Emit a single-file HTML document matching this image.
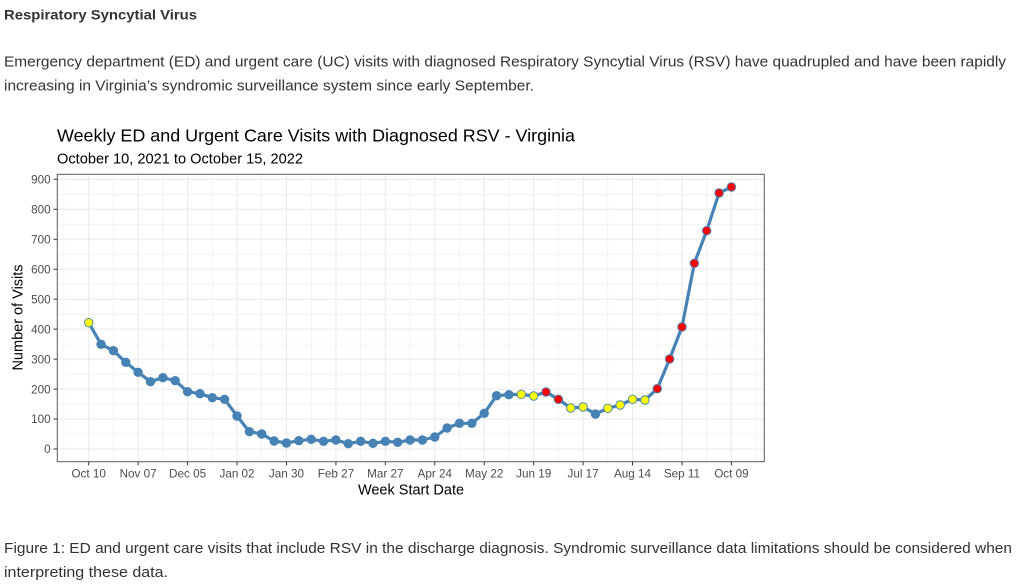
<!DOCTYPE html>
<html><head><meta charset="utf-8"><style>
html,body{margin:0;padding:0;background:#fff;width:1026px;height:586px;overflow:hidden}
svg{display:block}
text{font-family:"Liberation Sans",Arial,sans-serif}
</style></head><body>
<svg width="1026" height="586" viewBox="0 0 1026 586" xmlns="http://www.w3.org/2000/svg">
<rect width="1026" height="586" fill="#fff"/>
<text x="4" y="19.5" font-size="14" font-weight="bold" fill="#333" textLength="193" lengthAdjust="spacingAndGlyphs">Respiratory Syncytial Virus</text>
<text x="4" y="66.5" font-size="15" fill="#333" textLength="1002" lengthAdjust="spacingAndGlyphs">Emergency department (ED) and urgent care (UC) visits with diagnosed Respiratory Syncytial Virus (RSV) have quadrupled and have been rapidly</text>
<text x="4" y="90.5" font-size="15" fill="#333" textLength="530" lengthAdjust="spacingAndGlyphs">increasing in Virginia’s syndromic surveillance system since early September.</text>

<text x="57" y="141.5" font-size="17.6" fill="#000" textLength="518" lengthAdjust="spacingAndGlyphs">Weekly ED and Urgent Care Visits with Diagnosed RSV - Virginia</text>
<text x="57" y="163.3" font-size="14.67" fill="#000" textLength="246" lengthAdjust="spacingAndGlyphs">October 10, 2021 to October 15, 2022</text>

<!-- panel grid -->
<g fill="none" stroke="#ebebeb">
<path stroke-width="0.6" d="M57.3 434H764.3M57.3 404.05H764.3M57.3 374.08H764.3M57.3 344.12H764.3M57.3 314.15H764.3M57.3 284.18H764.3M57.3 254.22H764.3M57.3 224.25H764.3M57.3 194.28H764.3
M63.98 174.3V461.7M113.42 174.3V461.7M162.86 174.3V461.7M212.3 174.3V461.7M261.74 174.3V461.7M311.18 174.3V461.7M360.62 174.3V461.7M410.06 174.3V461.7M459.5 174.3V461.7M508.94 174.3V461.7M558.38 174.3V461.7M607.82 174.3V461.7M657.26 174.3V461.7M706.7 174.3V461.7M756.14 174.3V461.7"/>
<path stroke-width="1.1" d="M57.3 449H764.3M57.3 419.03H764.3M57.3 389.07H764.3M57.3 359.1H764.3M57.3 329.13H764.3M57.3 299.17H764.3M57.3 269.2H764.3M57.3 239.23H764.3M57.3 209.27H764.3M57.3 179.3H764.3
M88.7 174.3V461.7M138.14 174.3V461.7M187.58 174.3V461.7M237.02 174.3V461.7M286.46 174.3V461.7M335.9 174.3V461.7M385.34 174.3V461.7M434.78 174.3V461.7M484.22 174.3V461.7M533.66 174.3V461.7M583.1 174.3V461.7M632.54 174.3V461.7M681.98 174.3V461.7M731.42 174.3V461.7"/>
</g>

<!-- data line -->
<polyline fill="none" stroke="#4682b4" stroke-width="3.2" stroke-linejoin="round" points="88.7,322.7 101.06,344.3 113.42,350.7 125.78,362.3 138.14,372.3 150.5,381.7 162.86,377.7 175.22,380.7 187.58,391.7 199.94,393.7 212.3,397.7 224.66,399.3 237.02,416 249.38,431.7 261.74,434 274.1,441 286.46,443 298.82,440.7 311.18,439.3 323.54,441.3 335.9,440 348.26,443.7 360.62,441.3 372.98,443.3 385.34,441.3 397.7,442.3 410.06,440 422.42,440 434.78,437 447.14,428 459.5,423.3 471.86,423.3 484.22,413.3 496.58,395.7 508.94,394.7 521.3,394.3 533.66,396 546.02,392 558.38,399.3 570.74,408 583.1,407 595.46,414 607.82,408.3 620.18,405 632.54,399.3 644.9,400 657.26,388.7 669.62,359 681.98,327 694.34,263.3 706.7,230.7 719.06,193 731.42,187"/>

<!-- blue points -->
<g fill="#4682b4">
<circle cx="88.7" cy="322.7" r="4.7"/><circle cx="101.06" cy="344.3" r="4.7"/><circle cx="113.42" cy="350.7" r="4.7"/><circle cx="125.78" cy="362.3" r="4.7"/><circle cx="138.14" cy="372.3" r="4.7"/><circle cx="150.5" cy="381.7" r="4.7"/><circle cx="162.86" cy="377.7" r="4.7"/><circle cx="175.22" cy="380.7" r="4.7"/><circle cx="187.58" cy="391.7" r="4.7"/><circle cx="199.94" cy="393.7" r="4.7"/><circle cx="212.3" cy="397.7" r="4.7"/><circle cx="224.66" cy="399.3" r="4.7"/><circle cx="237.02" cy="416" r="4.7"/><circle cx="249.38" cy="431.7" r="4.7"/><circle cx="261.74" cy="434" r="4.7"/><circle cx="274.1" cy="441" r="4.7"/><circle cx="286.46" cy="443" r="4.7"/><circle cx="298.82" cy="440.7" r="4.7"/><circle cx="311.18" cy="439.3" r="4.7"/><circle cx="323.54" cy="441.3" r="4.7"/><circle cx="335.9" cy="440" r="4.7"/><circle cx="348.26" cy="443.7" r="4.7"/><circle cx="360.62" cy="441.3" r="4.7"/><circle cx="372.98" cy="443.3" r="4.7"/><circle cx="385.34" cy="441.3" r="4.7"/><circle cx="397.7" cy="442.3" r="4.7"/><circle cx="410.06" cy="440" r="4.7"/><circle cx="422.42" cy="440" r="4.7"/><circle cx="434.78" cy="437" r="4.7"/><circle cx="447.14" cy="428" r="4.7"/><circle cx="459.5" cy="423.3" r="4.7"/><circle cx="471.86" cy="423.3" r="4.7"/><circle cx="484.22" cy="413.3" r="4.7"/><circle cx="496.58" cy="395.7" r="4.7"/><circle cx="508.94" cy="394.7" r="4.7"/><circle cx="521.3" cy="394.3" r="4.7"/><circle cx="533.66" cy="396" r="4.7"/><circle cx="546.02" cy="392" r="4.7"/><circle cx="558.38" cy="399.3" r="4.7"/><circle cx="570.74" cy="408" r="4.7"/><circle cx="583.1" cy="407" r="4.7"/><circle cx="595.46" cy="414" r="4.7"/><circle cx="607.82" cy="408.3" r="4.7"/><circle cx="620.18" cy="405" r="4.7"/><circle cx="632.54" cy="399.3" r="4.7"/><circle cx="644.9" cy="400" r="4.7"/><circle cx="657.26" cy="388.7" r="4.7"/><circle cx="669.62" cy="359" r="4.7"/><circle cx="681.98" cy="327" r="4.7"/><circle cx="694.34" cy="263.3" r="4.7"/><circle cx="706.7" cy="230.7" r="4.7"/><circle cx="719.06" cy="193" r="4.7"/><circle cx="731.42" cy="187" r="4.7"/>
</g>
<!-- yellow points -->
<g fill="#ffff00">
<circle cx="88.7" cy="322.7" r="3.8"/><circle cx="521.3" cy="394.3" r="3.8"/><circle cx="533.66" cy="396" r="3.8"/><circle cx="570.74" cy="408" r="3.8"/><circle cx="583.1" cy="407" r="3.8"/><circle cx="607.82" cy="408.3" r="3.8"/><circle cx="620.18" cy="405" r="3.8"/><circle cx="632.54" cy="399.3" r="3.8"/><circle cx="644.9" cy="400" r="3.8"/>
</g>
<!-- red points -->
<g fill="#ff0000">
<circle cx="546.02" cy="392" r="3.8"/><circle cx="558.38" cy="399.3" r="3.8"/><circle cx="657.26" cy="388.7" r="3.8"/><circle cx="669.62" cy="359" r="3.8"/><circle cx="681.98" cy="327" r="3.8"/><circle cx="694.34" cy="263.3" r="3.8"/><circle cx="706.7" cy="230.7" r="3.8"/><circle cx="719.06" cy="193" r="3.8"/><circle cx="731.42" cy="187" r="3.8"/>
</g>

<!-- panel border -->
<rect x="57.3" y="174.3" width="707" height="287.4" fill="none" stroke="#5a5a5a" stroke-width="1"/>

<!-- ticks -->
<path fill="none" stroke="#333" stroke-width="1" d="M53.6 449H57.3M53.6 419.03H57.3M53.6 389.07H57.3M53.6 359.1H57.3M53.6 329.13H57.3M53.6 299.17H57.3M53.6 269.2H57.3M53.6 239.23H57.3M53.6 209.27H57.3M53.6 179.3H57.3
M88.7 461.7V465.4M138.14 461.7V465.4M187.58 461.7V465.4M237.02 461.7V465.4M286.46 461.7V465.4M335.9 461.7V465.4M385.34 461.7V465.4M434.78 461.7V465.4M484.22 461.7V465.4M533.66 461.7V465.4M583.1 461.7V465.4M632.54 461.7V465.4M681.98 461.7V465.4M731.42 461.7V465.4"/>

<g font-size="11.7" fill="#4d4d4d" text-anchor="end">
<text x="50.6" y="453.2">0</text>
<text x="50.6" y="423.2">100</text>
<text x="50.6" y="393.3">200</text>
<text x="50.6" y="363.3">300</text>
<text x="50.6" y="333.3">400</text>
<text x="50.6" y="303.4">500</text>
<text x="50.6" y="273.4">600</text>
<text x="50.6" y="243.4">700</text>
<text x="50.6" y="213.5">800</text>
<text x="50.6" y="183.5">900</text>
</g>
<g font-size="11.7" fill="#4d4d4d" text-anchor="middle">
<text x="88.7" y="477.5">Oct 10</text>
<text x="138.14" y="477.5">Nov 07</text>
<text x="187.58" y="477.5">Dec 05</text>
<text x="237.02" y="477.5">Jan 02</text>
<text x="286.46" y="477.5">Jan 30</text>
<text x="335.9" y="477.5">Feb 27</text>
<text x="385.34" y="477.5">Mar 27</text>
<text x="434.78" y="477.5">Apr 24</text>
<text x="484.22" y="477.5">May 22</text>
<text x="533.66" y="477.5">Jun 19</text>
<text x="583.1" y="477.5">Jul 17</text>
<text x="632.54" y="477.5">Aug 14</text>
<text x="681.98" y="477.5">Sep 11</text>
<text x="731.42" y="477.5">Oct 09</text>
</g>
<text x="411" y="494.5" font-size="14.5" fill="#000" text-anchor="middle">Week Start Date</text>
<text transform="translate(22.5,317.5) rotate(-90)" font-size="14.5" fill="#000" text-anchor="middle">Number of Visits</text>

<text x="4" y="553" font-size="15" fill="#333" textLength="1008" lengthAdjust="spacingAndGlyphs">Figure 1: ED and urgent care visits that include RSV in the discharge diagnosis. Syndromic surveillance data limitations should be considered when</text>
<text x="4" y="577" font-size="15" fill="#333" textLength="164" lengthAdjust="spacingAndGlyphs">interpreting these data.</text>
</svg>
</body></html>
